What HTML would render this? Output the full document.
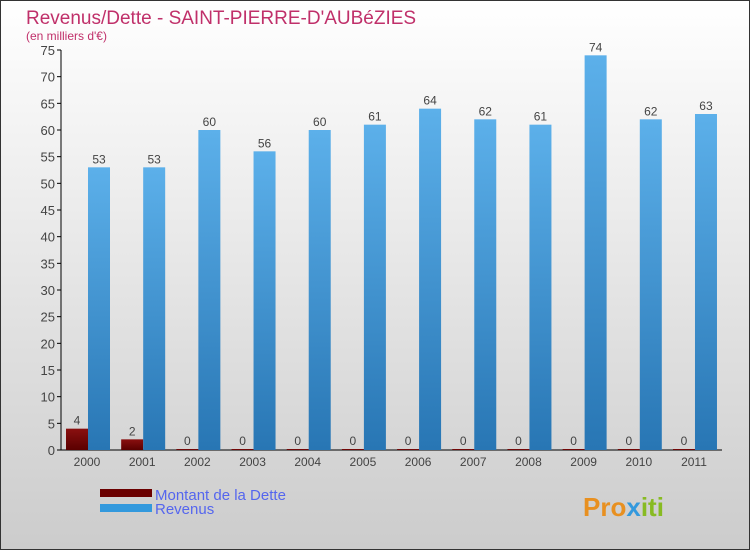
<!DOCTYPE html>
<html><head><meta charset="utf-8"><style>
body{margin:0;}
svg{display:block;font-family:"Liberation Sans",sans-serif;}
</style></head><body>
<svg id="chart" width="750" height="550" viewBox="0 0 750 550" xmlns="http://www.w3.org/2000/svg">
<defs>
<linearGradient id="bg" x1="0" y1="0" x2="0" y2="1"><stop offset="0" stop-color="#ffffff"/><stop offset="1" stop-color="#cccccc"/></linearGradient>
<linearGradient id="blue" x1="0" y1="0" x2="0" y2="1"><stop offset="0" stop-color="#5cb0ea"/><stop offset="1" stop-color="#2876b4"/></linearGradient>
<linearGradient id="red" x1="0" y1="0" x2="0" y2="1"><stop offset="0" stop-color="#8a1010"/><stop offset="1" stop-color="#5a0000"/></linearGradient>
</defs>
<rect x="0.5" y="0.5" width="749" height="549" fill="url(#bg)" stroke="#333"/>
<text x="26" y="24" font-size="19" fill="#c0306a">Revenus/Dette - SAINT-PIERRE-D'AUBéZIES</text>
<text x="26" y="40" font-size="12" fill="#c0306a">(en milliers d'€)</text>
<g id="axes"></g>
<g id="bars"></g>
<g>
<rect x="100" y="489" width="52" height="8" fill="#6b0000"/>
<text x="155" y="500" font-size="15" fill="#5566ee">Montant de la Dette</text>
<rect x="100" y="504" width="52" height="8" fill="#3399dd"/>
<text x="155" y="514" font-size="15" fill="#5566ee">Revenus</text>
</g>
<text x="583" y="516" font-size="26" font-weight="bold" fill="#e89020">Pro<tspan fill="#3399dd">x</tspan><tspan fill="#88bb22">iti</tspan></text>
</svg>
<script>
const categories=["2000","2001","2002","2003","2004","2005","2006","2007","2008","2009","2010","2011"];
const dette=[4,2,0,0,0,0,0,0,0,0,0,0];
const revenus=[53,53,60,56,60,61,64,62,61,74,62,63];
const yTicks=[0,5,10,15,20,25,30,35,40,45,50,55,60,65,70,75];
const NS="http://www.w3.org/2000/svg";
const y=v=>450-v*400/75;
const x=i=>87+i*55.18;
function mk(tag,attrs,parent){const e=document.createElementNS(NS,tag);for(const k in attrs)e.setAttribute(k,attrs[k]);parent.appendChild(e);return e;}
const axes=document.getElementById('axes'),bars=document.getElementById('bars');
let l=mk('line',{x1:61,y1:50,x2:61,y2:450,stroke:'#000'},axes);


l=mk('line',{x1:61,y1:450,x2:722,y2:450,stroke:'#000'},axes);


yTicks.forEach(t=>{
 const tk=mk('line',{x1:57,y1:y(t),x2:61,y2:y(t),stroke:'#000'},axes);
 
 
 const tx=mk('text',{x:55,y:y(t)+5,'text-anchor':'end','font-size':13,fill:'#444'},axes);
 
 
 tx.textContent=t;
});
categories.forEach((c,i)=>{
 const cx=x(i);
 const tx=mk('text',{x:cx,y:466,'text-anchor':'middle','font-size':12,fill:'#444'},axes);
 
 
 tx.textContent=c;
 const hd=Math.max(450-y(dette[i]),1);
 const b1=mk('rect',{x:cx-21,y:450-hd,width:22,height:hd,fill:'url(#red)'},bars);
 
 
 const v1=mk('text',{x:cx-10,y:450-hd-4,'text-anchor':'middle','font-size':12,fill:'#444'},bars);
 
 
 v1.textContent=dette[i];
 const b2=mk('rect',{x:cx+1,y:y(revenus[i]),width:22,height:450-y(revenus[i]),fill:'url(#blue)'},bars);
 
 
 const v2=mk('text',{x:cx+12,y:y(revenus[i])-4,'text-anchor':'middle','font-size':12,fill:'#444'},bars);
 
 
 v2.textContent=revenus[i];
});
</script>
</body></html>
